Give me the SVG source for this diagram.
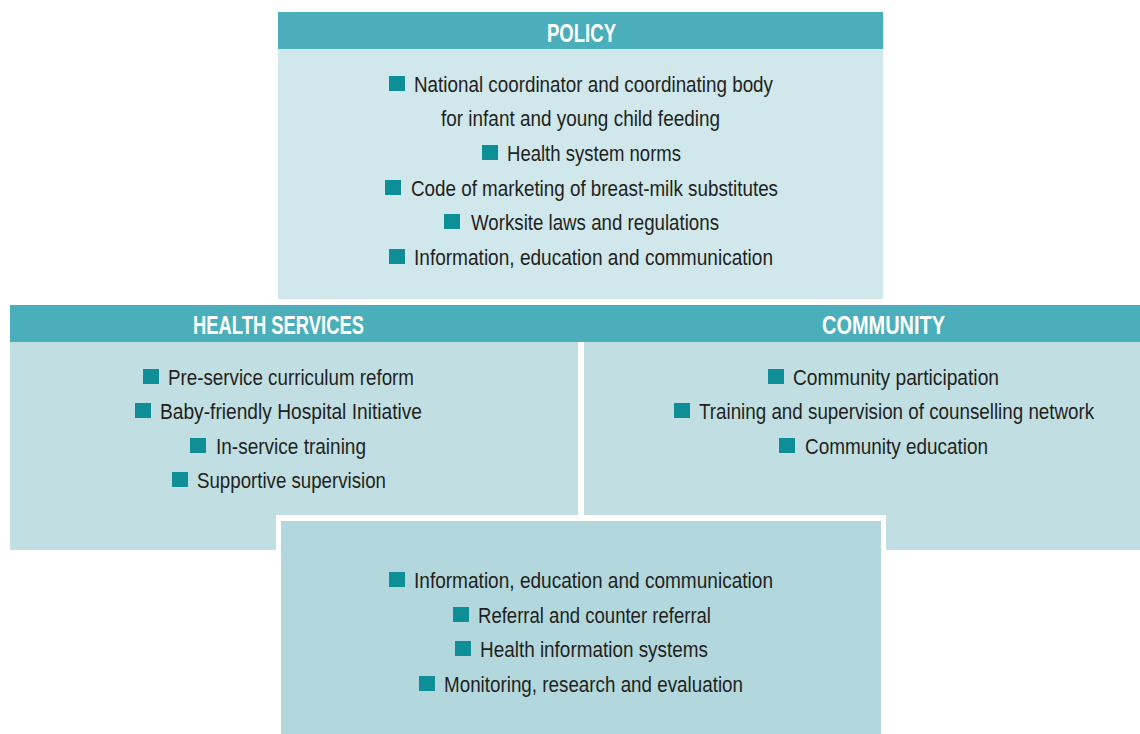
<svg xmlns="http://www.w3.org/2000/svg" width="1140" height="734" viewBox="0 0 1140 734">
<style>
.hdr{fill:#4BAFBB}
.pol{fill:#D0E7EB}
.mid{fill:#C1DFE3}
.bot{fill:#B2D8DE}
.b{fill:#0E8F98}
.t{font-family:"Liberation Sans",Arial,sans-serif;font-size:22px;fill:#231F20}
.h{font-family:"Liberation Sans",Arial,sans-serif;font-size:26px;font-weight:bold;fill:#FFFFFF}
</style>
<rect width="1140" height="734" fill="#FFFFFF"/>
<g id="policy">
<rect class="pol" x="278" y="12" width="605" height="287"/>
<rect class="hdr" x="278" y="12" width="605" height="37"/>
<text class="h" x="547" y="42" textLength="69" lengthAdjust="spacingAndGlyphs">POLICY</text>
<rect class="b" x="389" y="76" width="16" height="15"/>
<text class="t" x="414" y="92" textLength="359" lengthAdjust="spacingAndGlyphs">National coordinator and coordinating body</text>
<text class="t" x="441" y="126" textLength="279" lengthAdjust="spacingAndGlyphs">for infant and young child feeding</text>
<rect class="b" x="482" y="145" width="16" height="15"/>
<text class="t" x="507" y="161" textLength="174" lengthAdjust="spacingAndGlyphs">Health system norms</text>
<rect class="b" x="385" y="180" width="16" height="15"/>
<text class="t" x="411" y="196" textLength="367" lengthAdjust="spacingAndGlyphs">Code of marketing of breast-milk substitutes</text>
<rect class="b" x="444" y="214" width="16" height="15"/>
<text class="t" x="471" y="230" textLength="248" lengthAdjust="spacingAndGlyphs">Worksite laws and regulations</text>
<rect class="b" x="389" y="249" width="16" height="15"/>
<text class="t" x="414" y="265" textLength="359" lengthAdjust="spacingAndGlyphs">Information, education and communication</text>
</g>
<g id="header-band">
<rect class="hdr" x="10" y="305" width="1130" height="37"/>
</g>
<g id="health-services">
<rect class="mid" x="10" y="342" width="568" height="208"/>
<text class="h" x="193" y="334" textLength="171" lengthAdjust="spacingAndGlyphs">HEALTH SERVICES</text>
<rect class="b" x="143" y="369" width="16" height="15"/>
<text class="t" x="168" y="385" textLength="246" lengthAdjust="spacingAndGlyphs">Pre-service curriculum reform</text>
<rect class="b" x="135" y="403" width="16" height="15"/>
<text class="t" x="160" y="419" textLength="262" lengthAdjust="spacingAndGlyphs">Baby-friendly Hospital Initiative</text>
<rect class="b" x="190" y="438" width="16" height="15"/>
<text class="t" x="216" y="454" textLength="150" lengthAdjust="spacingAndGlyphs">In-service training</text>
<rect class="b" x="172" y="472" width="16" height="15"/>
<text class="t" x="197" y="488" textLength="189" lengthAdjust="spacingAndGlyphs">Supportive supervision</text>
</g>
<g id="community">
<rect class="mid" x="584" y="342" width="556" height="208"/>
<text class="h" x="822" y="334" textLength="123" lengthAdjust="spacingAndGlyphs">COMMUNITY</text>
<rect class="b" x="768" y="369" width="16" height="15"/>
<text class="t" x="793" y="385" textLength="206" lengthAdjust="spacingAndGlyphs">Community participation</text>
<rect class="b" x="674" y="403" width="16" height="15"/>
<text class="t" transform="translate(699,419) scale(0.8,1)" x="0" y="0" textLength="494" lengthAdjust="spacingAndGlyphs">Training and supervision of counselling network</text>
<rect class="b" x="779" y="438" width="16" height="15"/>
<text class="t" x="805" y="454" textLength="183" lengthAdjust="spacingAndGlyphs">Community education</text>
</g>
<g id="support-systems">
<rect fill="#FFFFFF" x="276" y="515" width="610" height="225"/>
<rect class="bot" x="281" y="521" width="600" height="213"/>
<rect class="b" x="389" y="572" width="16" height="15"/>
<text class="t" x="414" y="588" textLength="359" lengthAdjust="spacingAndGlyphs">Information, education and communication</text>
<rect class="b" x="453" y="607" width="16" height="15"/>
<text class="t" x="478" y="623" textLength="233" lengthAdjust="spacingAndGlyphs">Referral and counter referral</text>
<rect class="b" x="455" y="641" width="16" height="15"/>
<text class="t" x="480" y="657" textLength="228" lengthAdjust="spacingAndGlyphs">Health information systems</text>
<rect class="b" x="419" y="676" width="16" height="15"/>
<text class="t" x="444" y="692" textLength="299" lengthAdjust="spacingAndGlyphs">Monitoring, research and evaluation</text>
</g>
<g id="connectors"></g>
</svg>
